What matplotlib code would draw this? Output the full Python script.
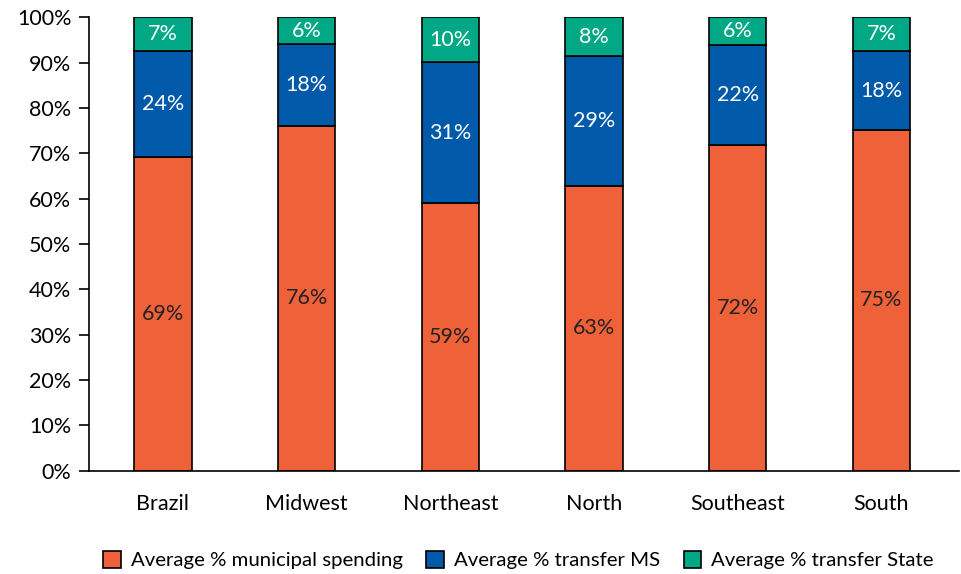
import numpy as np
import matplotlib.pyplot as plt
from matplotlib.ticker import PercentFormatter

plt.rcParams['font.family'] = ['Lato', 'DejaVu Sans']

regions = ["Brazil", "Midwest", "Northeast", "North", "Southeast", "South"]
municipal = [69.2, 76.0, 59.0, 62.8, 71.8, 75.1]
transfer_ms = [23.3, 18.0, 31.1, 28.6, 22.0, 17.4]
transfer_state = [7.5, 6.0, 9.9, 8.6, 6.2, 7.5]
lbl_municipal = [69, 76, 59, 63, 72, 75]
lbl_ms = [24, 18, 31, 29, 22, 18]
lbl_state = [7, 6, 10, 8, 6, 7]

c_mun = "#EF6239"
c_ms = "#0059A9"
c_state = "#00A886"

fig, ax = plt.subplots(figsize=(9.62, 5.74), dpi=100)
fig.subplots_adjust(left=0.093, right=0.997, top=0.97, bottom=0.18)

x = np.arange(len(regions))
w = 0.4
mun = np.array(municipal)
ms = np.array(transfer_ms)
st = np.array(transfer_state)

b1 = ax.bar(x, mun, w, color=c_mun, edgecolor="black", linewidth=1.2,
            label="Average % municipal spending")
b2 = ax.bar(x, ms, w, bottom=mun, color=c_ms, edgecolor="black", linewidth=1.2,
            label="Average % transfer MS")
b3 = ax.bar(x, st, w, bottom=mun + ms, color=c_state, edgecolor="black", linewidth=1.2,
            label="Average % transfer State")

for i in range(len(regions)):
    ax.text(x[i], mun[i] / 2, f"{lbl_municipal[i]}%", ha="center", va="center",
            fontsize=15.5, color="#222222")
    ax.text(x[i], mun[i] + ms[i] / 2, f"{lbl_ms[i]}%", ha="center", va="center",
            fontsize=15.5, color="white")
    ax.text(x[i], mun[i] + ms[i] + st[i] / 2, f"{lbl_state[i]}%", ha="center", va="center",
            fontsize=15.5, color="white")

ax.set_xlim(-0.51, 5.54)
ax.set_ylim(0, 100)
ax.set_yticks(np.arange(0, 101, 10))
ax.yaxis.set_major_formatter(PercentFormatter(decimals=0))
ax.set_xticks(x)
ax.set_xticklabels(regions)
ax.tick_params(axis="x", length=0, pad=17, labelsize=15.5)
ax.tick_params(axis="y", length=7, width=1.2, labelsize=15.5, pad=6)
ax.spines["top"].set_visible(False)
ax.spines["right"].set_visible(False)
ax.spines["left"].set_linewidth(1.2)
ax.spines["bottom"].set_linewidth(1.2)

leg = fig.legend(handles=[b1, b2, b3], loc="lower center", ncol=3, frameon=False,
                 bbox_to_anchor=(0.539, -0.024), fontsize=14.7, handlelength=0.85,
                 handleheight=0.9, columnspacing=1.15, handletextpad=0.5)

fig.savefig("out.png", dpi=100)
